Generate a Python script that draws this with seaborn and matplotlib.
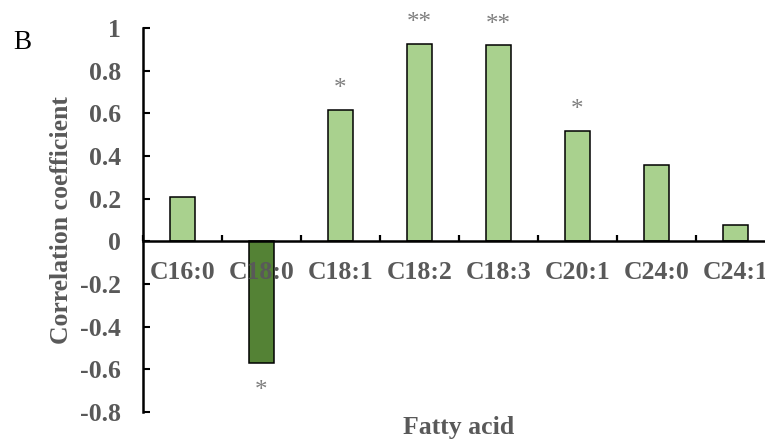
import matplotlib
matplotlib.use("Agg")
import matplotlib.pyplot as plt
import seaborn as sns
import numpy as np

categories = ["C16:0", "C18:0", "C18:1", "C18:2", "C18:3", "C20:1", "C24:0", "C24:1"]
values = [0.209, -0.573, 0.616, 0.926, 0.920, 0.519, 0.357, 0.077]
significance = ["", "*", "*", "**", "**", "*", "", ""]
yticks = [-0.8, -0.6, -0.4, -0.2, 0, 0.2, 0.4, 0.6, 0.8, 1]
ytick_labels = ["-0.8", "-0.6", "-0.4", "-0.2", "0", "0.2", "0.4", "0.6", "0.8", "1"]

sns.set_style("white")
plt.rcParams["font.family"] = ["Liberation Serif", "DejaVu Serif"]

LIGHT = "#A9D18E"
DARK = "#548235"
GRAY = "#595959"
colors = [DARK if v < 0 else LIGHT for v in values]

fig = plt.figure(figsize=(7.65, 4.43), dpi=100)
W, H = 765, 443
ax = fig.add_axes([143 / W, (H - 411.7) / H, 632 / W, 383.4 / H])

sns.barplot(x=categories, y=values, hue=categories, palette=colors, legend=False,
            saturation=1, edgecolor="black", linewidth=1.1, width=0.32, ax=ax, zorder=2)

ax.set_xlim(-0.5, len(categories) - 0.5)
ax.set_ylim(-0.8, 1.0)
ax.set_yticks(yticks)
ax.set_yticklabels(ytick_labels)
ax.set_axisbelow(False)
ax.xaxis.set_zorder(5)
ax.yaxis.set_zorder(5)

for s in ["top", "right"]:
    ax.spines[s].set_visible(False)
ax.spines["bottom"].set_position(("data", 0))
for s in ["left", "bottom"]:
    ax.spines[s].set_linewidth(1.8)
    ax.spines[s].set_color("black")
    ax.spines[s].set_zorder(4)

ax.tick_params(axis="y", left=True, direction="in", length=5, width=1.5, color="black",
               pad=16, labelsize=18.5, labelcolor=GRAY)
ax.tick_params(axis="x", which="major", bottom=True, length=0, pad=14.5, labelsize=18.5,
               labelcolor=GRAY)
ax.set_xticks(np.arange(-0.5, len(categories), 1.0), minor=True)
ax.tick_params(axis="x", which="minor", bottom=True, direction="in", length=4.5, width=1.6,
               color="black")
for lab in ax.get_xticklabels() + ax.get_yticklabels():
    lab.set_fontweight("bold")

ax.set_xlabel("Fatty acid", fontsize=18.5, fontweight="bold", color=GRAY)
ax.xaxis.set_label_coords(0.5, -0.012)
ax.set_ylabel("Correlation coefficient", fontsize=18.5, fontweight="bold", color=GRAY)
ax.yaxis.set_label_coords(-0.11, 0.5)

for i, (v, s) in enumerate(zip(values, significance)):
    if not s:
        continue
    off = 15 if v >= 0 else -20
    ax.annotate(s, xy=(i, v), xytext=(0, off), textcoords="offset points",
                ha="center", va="center", fontsize=18, color="#7F7F7F")

fig.text(13 / W, 1 - 49 / H, "B", fontsize=19.5, color="black", ha="left", va="baseline")

fig.savefig("out.png", dpi=100)
